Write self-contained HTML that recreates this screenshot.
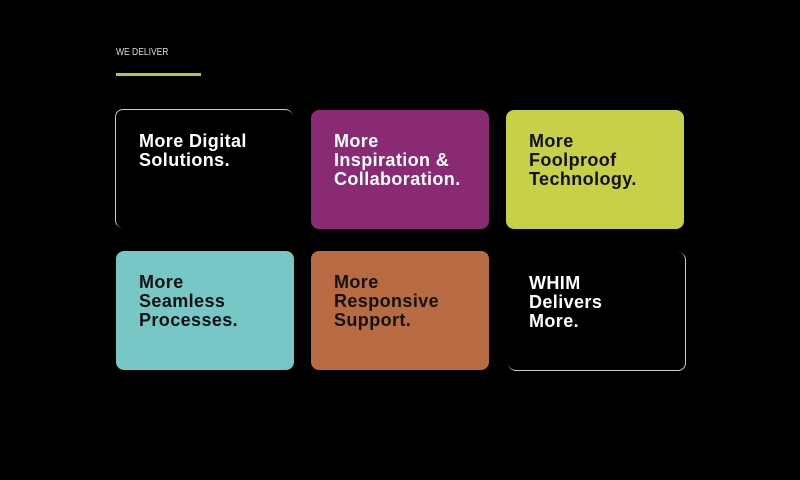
<!DOCTYPE html>
<html><head><style>
body{margin:0;width:800px;height:480px;background:#000;position:relative;overflow:hidden;font-family:"Liberation Sans",sans-serif}
.h{position:absolute;left:116px;top:47px;color:#ddd;font-size:10px;letter-spacing:0;transform:scaleX(0.85);transform-origin:left}
.bar{position:absolute;left:116px;top:73px;width:85px;height:3px;background:#b9c33c}
.b{position:absolute;width:178px;height:119px;border-radius:8px;box-sizing:border-box}
.t{position:absolute;left:23px;top:22px;color:#fff;font-weight:bold;font-size:18px;line-height:19px;letter-spacing:0.4px}
</style></head><body>
<div class="h">WE DELIVER</div>
<div class="bar"></div>
<div class="b" style="left:115px;top:109px;border-top:1.5px solid #ccc;border-left:1.5px solid #ccc"><div class="t">More Digital<br>Solutions.</div></div>
<div class="b" style="left:311px;top:110px;background:#8a2a74"><div class="t">More<br>Inspiration &amp;<br>Collaboration.</div></div>
<div class="b" style="left:506px;top:110px;background:#c8d048"><div class="t" style="color:#111">More<br>Foolproof<br>Technology.</div></div>
<div class="b" style="left:116px;top:251px;background:#77c7c6"><div class="t" style="color:#111">More<br>Seamless<br>Processes.</div></div>
<div class="b" style="left:311px;top:251px;background:#b86b42"><div class="t" style="color:#111">More<br>Responsive<br>Support.</div></div>
<div class="b" style="left:508px;top:252px;border-right:1.5px solid #ccc;border-bottom:1.5px solid #ccc"><div class="t" style="left:21px">WHIM<br>Delivers<br>More.</div></div>
</body></html>
